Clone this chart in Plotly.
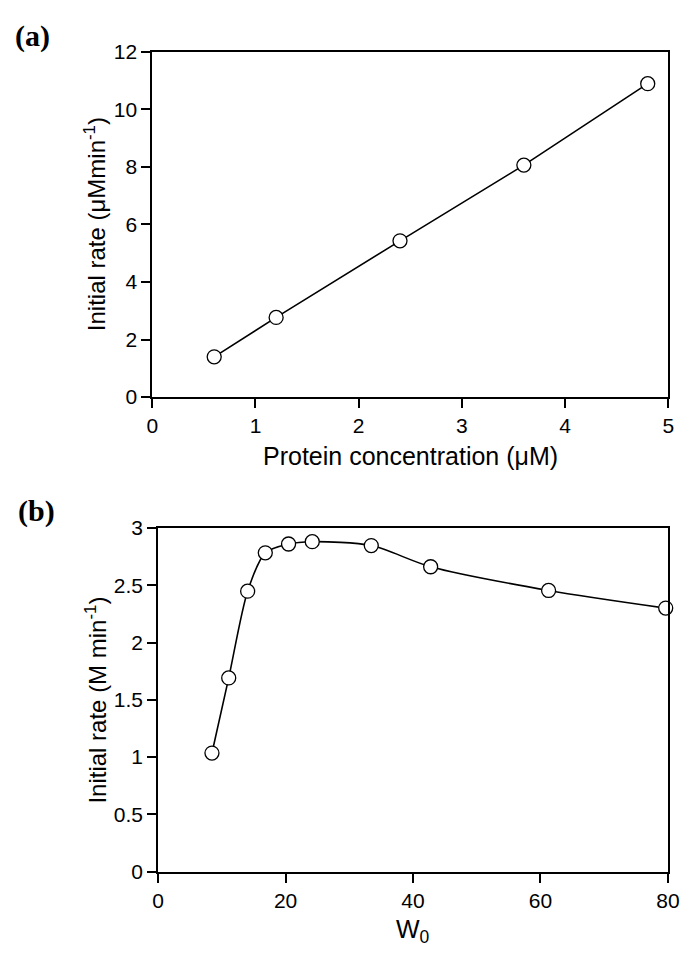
import plotly.graph_objects as go

# ---- data: panel (a)
protein_conc = [0.6, 1.2, 2.4, 3.6, 4.8]
rate_a = [1.40, 2.77, 5.43, 8.06, 10.89]

# ---- data: panel (b)
w0 = [8.45, 11.08, 14.05, 16.82, 20.47, 24.19, 33.45, 42.77, 61.28, 79.66]
rate_b = [1.035, 1.691, 2.449, 2.784, 2.861, 2.881, 2.847, 2.662, 2.455, 2.301]

xticks_a = [0, 1, 2, 3, 4, 5]
yticks_a = [0, 2, 4, 6, 8, 10, 12]
xticks_b = [0, 20, 40, 60, 80]
yticks_b = [0, 0.5, 1, 1.5, 2, 2.5, 3]

# the page body has an 8px default margin; the figure fills the rest of the window
OFF = 8
W, H = 694 - OFF, 956 - OFF
FONT = "Liberation Sans, Arial, sans-serif"

def px_x(v):
    return (v - OFF) / W

def px_y(v):
    return 1 - (v - OFF) / H

marker = dict(symbol="circle", size=14, color="white",
              line=dict(color="black", width=1.3))

fig = go.Figure()
fig.add_trace(go.Scatter(x=protein_conc, y=rate_a, mode="lines+markers",
                         line=dict(color="black", width=1.6),
                         marker=marker, cliponaxis=False,
                         xaxis="x", yaxis="y", showlegend=False))
fig.add_trace(go.Scatter(x=w0, y=rate_b, mode="lines+markers",
                         line=dict(color="black", width=1.6, shape="spline", smoothing=0.8),
                         marker=marker, cliponaxis=False,
                         xaxis="x2", yaxis="y2", showlegend=False))

axis_common = dict(showline=True, linecolor="black", linewidth=2, mirror=True,
                   ticks="outside", ticklen=9, tickwidth=1.8, tickcolor="black",
                   showgrid=False, zeroline=False,
                   tickfont=dict(family=FONT, size=21, color="black"))

fig.update_layout(
    width=W, height=H,
    margin=dict(l=0, r=0, t=0, b=0),
    paper_bgcolor="white", plot_bgcolor="white",
    xaxis=dict(domain=[px_x(150), px_x(680)], range=[0, 5], tickvals=xticks_a,
               anchor="y", **axis_common),
    yaxis=dict(domain=[px_y(394.5), px_y(40.5)], range=[0, 12], tickvals=yticks_a,
               anchor="x", **axis_common),
    xaxis2=dict(domain=[px_x(156), px_x(679.5)], range=[0, 80], tickvals=xticks_b,
                anchor="y2", **axis_common),
    yaxis2=dict(domain=[px_y(880.7), px_y(528.7)], range=[0, 3], tickvals=yticks_b,
                anchor="x2", **axis_common),
)

ytitle_font = dict(family=FONT, size=24, color="black")
xtitle_font = dict(family=FONT, size=25, color="black")
label_font = dict(family="Liberation Serif, Times New Roman, serif", size=30, color="black")

annotations = [
    dict(text="Initial rate (μMmin<sup>-1</sup>)", x=px_x(92), y=px_y(217.5),
         textangle=-90, font=ytitle_font),
    dict(text="Protein concentration (μM)", x=px_x(415), y=px_y(455), font=xtitle_font),
    dict(text="Initial rate (M min<sup>-1</sup>)", x=px_x(92), y=px_y(704.7),
         textangle=-90, font=ytitle_font),
    dict(text="W<sub>0</sub>", x=px_x(418), y=px_y(942), font=xtitle_font),
    dict(text="<b>(a)</b>", x=px_x(27), y=px_y(24), font=label_font),
    dict(text="<b>(b)</b>", x=px_x(31), y=px_y(511), font=label_font),
]
for a in annotations:
    a.update(xref="paper", yref="paper", showarrow=False,
             xanchor="center", yanchor="middle")
fig.update_layout(annotations=annotations)

fig.write_html("out.html")
